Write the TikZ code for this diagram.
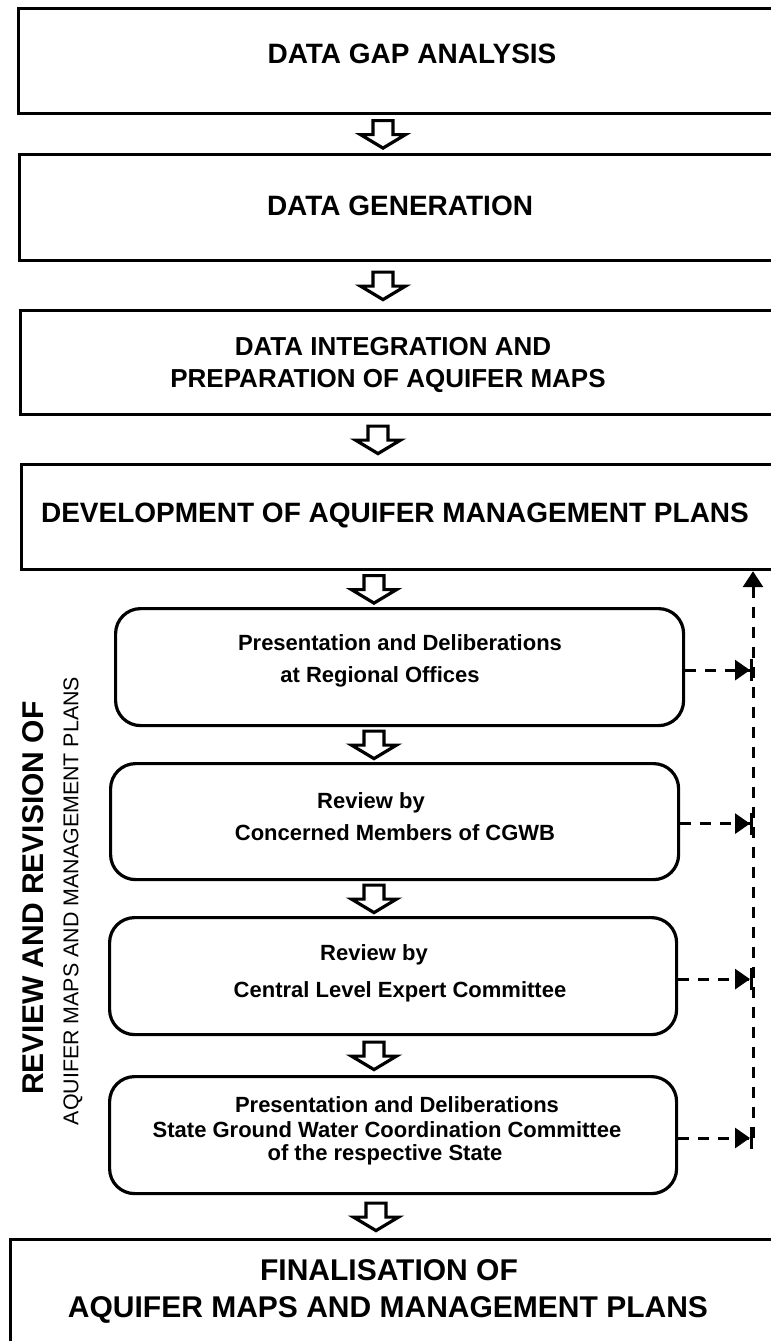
\documentclass[tikz,border=0pt]{standalone}
\usepackage{fontspec}
\setmainfont{Liberation Sans}
\usetikzlibrary{arrows.meta,calc}
\tikzset{
  barrow/.pic={\draw[line width=1.6pt, line join=miter, fill=white]
     (-10,-13.5) -- (10,-13.5) -- (10,0.5) -- (22.5,0.5) -- (0,14) -- (-22.5,0.5) -- (-10,0.5) -- cycle;},
  sqbox/.style={draw, line width=1.6pt, inner sep=0pt, anchor=north west},
  rbox/.style={draw, line width=1.6pt, rounded corners=12.5pt, inner sep=0pt, anchor=north west},
  maintxt/.style={font=\fontsize{14}{16}\selectfont\bfseries, inner sep=0pt, anchor=base},
  midtxt/.style={font=\fontsize{13}{15}\selectfont\bfseries, inner sep=0pt, anchor=base},
  fintxt/.style={font=\fontsize{15}{17}\selectfont\bfseries, inner sep=0pt, anchor=base},
  smalltxt/.style={font=\fontsize{11}{13}\selectfont\bfseries, inner sep=0pt, anchor=base},
  sidebig/.style={font=\fontsize{15}{17}\selectfont\bfseries, inner sep=0pt, rotate=90},
  sidesmall/.style={font=\fontsize{10.7}{12}\selectfont, inner sep=0pt, rotate=90},
  dashline/.style={line width=1.5pt, dash pattern=on 5.5pt off 4.5pt},
  feedback/.style={dashline, -{Triangle[length=7.5pt,width=10pt,sep=0pt]Bar[width=11pt]}},
  uptip/.style={dashline, -{Triangle[length=8pt,width=10pt]}}
}
\begin{document}
\begin{tikzpicture}[x=0.5pt,y=-0.5pt]
\useasboundingbox (0,0) rectangle (771,1341);
\clip (0,0) rectangle (771,1341);
\fill[white] (0,0) rectangle (771,1341);

% square boxes
\node[sqbox, minimum width=395pt, minimum height=52.5pt] (b1) at (17,7) {};
\node[sqbox, minimum width=400pt, minimum height=53pt] (b2) at (18,153) {};
\node[sqbox, minimum width=391pt, minimum height=52pt] (b3) at (19,309) {};
\node[sqbox, minimum width=390pt, minimum height=52.5pt] (b4) at (20,463) {};
% rounded boxes
\node[rbox, minimum width=284pt, minimum height=58.5pt] (bA) at (114,607) {};
\node[rbox, minimum width=284pt, minimum height=58pt] (bB) at (109,762) {};
\node[rbox, minimum width=283.5pt, minimum height=58.5pt] (bC) at (108,916) {};
\node[rbox, minimum width=283.5pt, minimum height=58.5pt] (bD) at (108,1075) {};
% final box
\node[sqbox, minimum width=400pt, minimum height=60pt] (bF) at (9,1238) {};

% texts
\node[maintxt] (t1) at (412,63) {DATA GAP ANALYSIS};
\node[maintxt] (t2) at (400,215) {DATA GENERATION};
\node[midtxt] (t3a) at (393,355) {DATA INTEGRATION AND};
\node[midtxt] (t3b) at (388,387) {PREPARATION OF AQUIFER MAPS};
\node[maintxt] (t4) at (395,522) {DEVELOPMENT OF AQUIFER MANAGEMENT PLANS};
\node[smalltxt] (tA1) at (400,650) {Presentation and Deliberations};
\node[smalltxt] (tA2) at (380,682) {at Regional Offices};
\node[smalltxt] (tB1) at (371,808) {Review by};
\node[smalltxt] (tB2) at (395,840) {Concerned Members of CGWB};
\node[smalltxt] (tC1) at (374,960) {Review by};
\node[smalltxt] (tC2) at (400,997) {Central Level Expert Committee};
\node[smalltxt] (tD1) at (397,1112) {Presentation and Deliberations};
\node[smalltxt] (tD2) at (387,1137) {State Ground Water Coordination Committee};
\node[smalltxt] (tD3) at (385,1160) {of the respective State};
\node[fintxt] (tF1) at (389,1280) {FINALISATION OF};
\node[fintxt] (tF2) at (388,1317) {AQUIFER MAPS AND MANAGEMENT PLANS};

% side labels
\node[sidebig] (s1) at (33,898) {REVIEW AND REVISION OF};
\node[sidesmall] (s2) at (73,901) {AQUIFER MAPS AND MANAGEMENT PLANS};

% block arrows
\coordinate (xa) at (383,0);
\coordinate (xb) at (378,0);
\coordinate (xc) at (374,0);
\coordinate (xd) at (376,0);
\path ($(b1.south)!0.5!(b2.north)$) coordinate (m1);
\path ($(b2.south)!0.5!(b3.north)$) coordinate (m2);
\path ($(b3.south)!0.5!(b4.north)$) coordinate (m3);
\path ($(b4.south)!0.5!(bA.north)$) coordinate (m4);
\path ($(bA.south)!0.5!(bB.north)$) coordinate (m5);
\path ($(bB.south)!0.5!(bC.north)$) coordinate (m6);
\path ($(bC.south)!0.5!(bD.north)$) coordinate (m7);
\path ($(bD.south)!0.5!(bF.north)$) coordinate (m8);
\pic at (m1 -| xa) {barrow};
\pic at (m2 -| xa) {barrow};
\pic at (m3 -| xb) {barrow};
\pic at (m4 -| xc) {barrow};
\pic at (m5 -| xc) {barrow};
\pic at (m6 -| xc) {barrow};
\pic at (m7 -| xc) {barrow};
\pic at (m8 -| xd) {barrow};

% feedback dashed lines
\coordinate (vb) at (753,1138);
\draw[uptip] (vb) -- (vb |- b4.south);
\draw[feedback] ([yshift=-1.5pt]bA.east) -- ([yshift=-1.5pt]bA.east -| vb);
\draw[feedback] ([yshift=-1pt]bB.east) -- ([yshift=-1pt]bB.east -| vb);
\draw[feedback] ([yshift=-1.5pt]bC.east) -- ([yshift=-1.5pt]bC.east -| vb);
\draw[feedback] (bD.east |- vb) -- (vb);
\end{tikzpicture}
\end{document}
